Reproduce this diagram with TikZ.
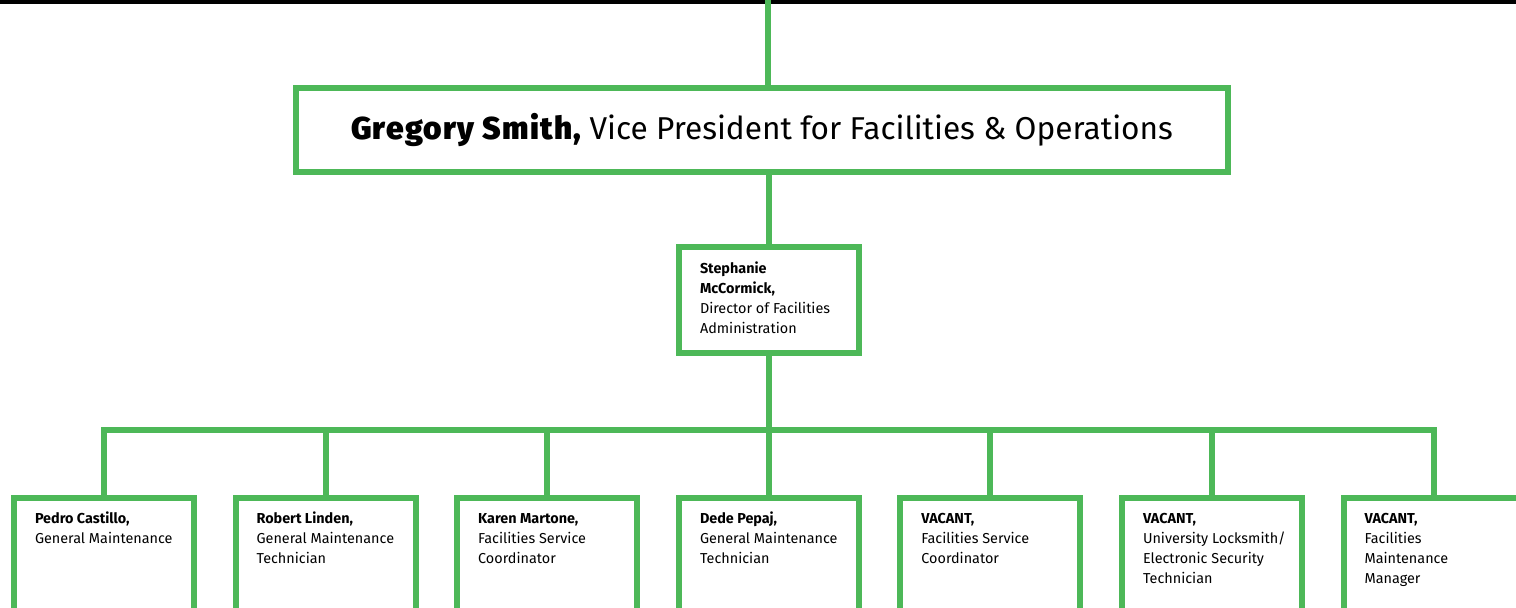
\documentclass[tikz,border=0pt]{standalone}
\usepackage{fontspec}
\setmainfont{Fira Sans}
\newfontfamily\heavyfont{Fira Sans Black}[LetterSpace=4]
\usetikzlibrary{positioning}
\definecolor{orggreen}{RGB}{77,184,88}
\tikzset{
  wire/.style={draw=orggreen,line width=3pt},
  post/.style={wire,inner sep=0pt,outer sep=0pt},
  staff/.style={post,anchor=north},
}
\newcommand{\posttext}[3]{\parbox[c][#1][t]{90pt}{\fontsize{7.2}{10}\selectfont\raggedright\leftskip=10.5pt\rule{0pt}{#2}#3}}

\begin{document}
\begin{tikzpicture}[x=0.5pt,y=-0.5pt]
\clip (0,0) rectangle (1516,608);
\fill[black] (0,0) rectangle (1516,4.5);

\node[post,minimum width=466pt,minimum height=42pt] (vp) at (762,130) {\fontsize{15.8}{18}\selectfont{\heavyfont Gregory Smith,} Vice President for Facilities \& Operations};
\node[staff] (dir) at (769,247) {\posttext{53pt}{13.5pt}{\textbf{Stephanie}\\\textbf{McCormick,}\\Director of Facilities\\Administration}};

\node[staff] (s1) at (104,498) {\posttext{71pt}{13pt}{\textbf{Pedro Castillo,}\\General Maintenance}};
\node[staff] (s2) at (325.6,498) {\posttext{71pt}{13pt}{\textbf{Robert Linden,}\\General Maintenance\\Technician}};
\node[staff] (s3) at (547.2,498) {\posttext{71pt}{13pt}{\textbf{Karen Martone,}\\Facilities Service\\Coordinator}};
\node[staff] (s4) at (769,498) {\posttext{71pt}{13pt}{\textbf{Dede Pepaj,}\\General Maintenance\\Technician}};
\node[staff] (s5) at (990.4,498) {\posttext{71pt}{13pt}{\textbf{VACANT,}\\Facilities Service\\Coordinator}};
\node[staff] (s6) at (1212,498) {\posttext{71pt}{13pt}{\textbf{VACANT,}\\University Locksmith/\\Electronic Security\\Technician}};
\node[staff] (s7) at (1433.6,498) {\posttext{71pt}{13pt}{\textbf{VACANT,}\\Facilities\\Maintenance\\Manager}};

\coordinate (feed) at (768,0);
\coordinate (bus) at (769,430);
\draw[wire] (feed) -- (feed |- vp.north);
\draw[wire] (vp.south -| dir.north) -- (dir.north);
\draw[wire] (dir.south) -- (bus);
\draw[wire] (s1.north) -- (s1.north |- bus) -- (s7.north |- bus) -- (s7.north);
\foreach \i in {2,...,6}
  \draw[wire] (s\i.north) -- (s\i.north |- bus);
\end{tikzpicture}
\end{document}
